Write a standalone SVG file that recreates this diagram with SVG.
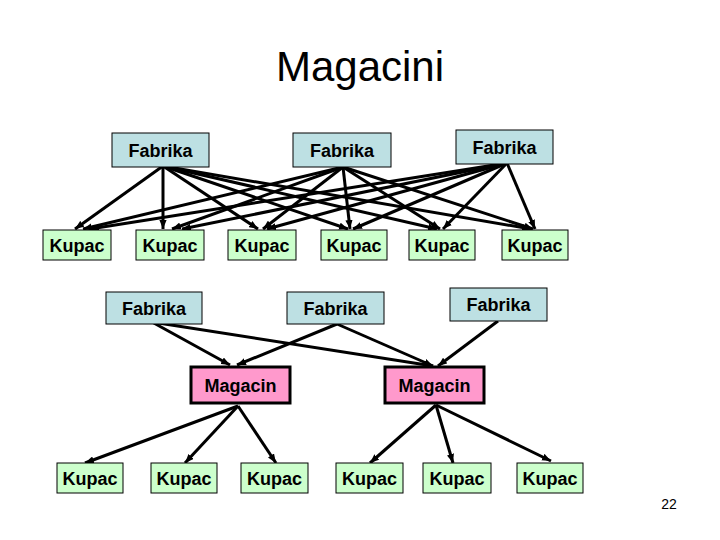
<svg xmlns="http://www.w3.org/2000/svg" width="720" height="540" viewBox="0 0 720 540">
<style>
.lbl{font-family:"Liberation Sans",Arial,sans-serif;font-weight:bold;font-size:18px;text-anchor:middle;fill:#000}
.fab{fill:#BDE0E3;stroke:#000;stroke-width:1}
.kup{fill:#CCFFCC;stroke:#000;stroke-width:1}
.mag{fill:#FF99CC;stroke:#000;stroke-width:3}
.con line{stroke:#000;stroke-width:3;marker-end:url(#ah)}
</style>
<defs>
<marker id="ah" markerUnits="userSpaceOnUse" viewBox="0 0 10 8" refX="10" refY="4" markerWidth="9" markerHeight="7.5" orient="auto">
<path d="M0,0 L10,4 L0,8 z" fill="#000"/>
</marker>
</defs>
<rect width="720" height="540" fill="#fff"/>
<text x="360" y="81" font-family="'Liberation Sans',Arial,sans-serif" font-size="42" text-anchor="middle">Magacini</text>
<text x="669" y="509" font-family="'Liberation Sans',Arial,sans-serif" font-size="14" text-anchor="middle">22</text>

<g id="connectors" class="con">
<line x1="163" y1="166" x2="75" y2="229"/>
<line x1="163" y1="166" x2="163" y2="229"/>
<line x1="163" y1="166" x2="258" y2="229"/>
<line x1="163" y1="166" x2="348" y2="229"/>
<line x1="163" y1="166" x2="437" y2="229"/>
<line x1="163" y1="166" x2="531" y2="229"/>
<line x1="343" y1="167" x2="83" y2="229"/>
<line x1="343" y1="167" x2="172" y2="229"/>
<line x1="343" y1="167" x2="263" y2="229"/>
<line x1="343" y1="167" x2="350" y2="229"/>
<line x1="343" y1="167" x2="440" y2="229"/>
<line x1="343" y1="167" x2="533" y2="229"/>
<line x1="507" y1="163" x2="90" y2="229"/>
<line x1="507" y1="163" x2="182" y2="229"/>
<line x1="507" y1="163" x2="267" y2="229"/>
<line x1="507" y1="163" x2="353" y2="229"/>
<line x1="507" y1="163" x2="443" y2="229"/>
<line x1="507" y1="163" x2="535" y2="229"/>
<line x1="152" y1="322" x2="230" y2="365"/>
<line x1="152" y1="322" x2="433" y2="366"/>
<line x1="337" y1="324" x2="237" y2="365"/>
<line x1="337" y1="324" x2="433" y2="366"/>
<line x1="498" y1="321" x2="438" y2="366"/>
<line x1="238" y1="406" x2="85" y2="463"/>
<line x1="238" y1="406" x2="185" y2="463"/>
<line x1="238" y1="406" x2="276" y2="463"/>
<line x1="436" y1="405" x2="370" y2="463"/>
<line x1="436" y1="405" x2="453" y2="463"/>
<line x1="436" y1="405" x2="551" y2="461"/>
</g>

<g id="fabrika1"><rect class="fab" x="112" y="133" width="97" height="34"/><text class="lbl" x="160.5" y="156.5">Fabrika</text></g>
<g id="fabrika2"><rect class="fab" x="293" y="133" width="98" height="34"/><text class="lbl" x="342" y="156.5">Fabrika</text></g>
<g id="fabrika3"><rect class="fab" x="456" y="130" width="97" height="34"/><text class="lbl" x="504.5" y="153.5">Fabrika</text></g>

<g id="kupac1"><rect class="kup" x="43" y="230" width="68" height="30"/><text class="lbl" x="77" y="251.5">Kupac</text></g>
<g id="kupac2"><rect class="kup" x="136" y="230" width="68" height="30"/><text class="lbl" x="170" y="251.5">Kupac</text></g>
<g id="kupac3"><rect class="kup" x="228" y="230" width="68" height="30"/><text class="lbl" x="262" y="251.5">Kupac</text></g>
<g id="kupac4"><rect class="kup" x="321" y="230" width="66" height="30"/><text class="lbl" x="354" y="251.5">Kupac</text></g>
<g id="kupac5"><rect class="kup" x="409" y="230" width="66" height="30"/><text class="lbl" x="442" y="251.5">Kupac</text></g>
<g id="kupac6"><rect class="kup" x="502" y="230" width="66" height="30"/><text class="lbl" x="535" y="251.5">Kupac</text></g>

<g id="fabrika4"><rect class="fab" x="106" y="292" width="96" height="32"/><text class="lbl" x="154" y="314.5">Fabrika</text></g>
<g id="fabrika5"><rect class="fab" x="287" y="292" width="97" height="32"/><text class="lbl" x="335.5" y="314.5">Fabrika</text></g>
<g id="fabrika6"><rect class="fab" x="450" y="288" width="97" height="33"/><text class="lbl" x="498.5" y="311">Fabrika</text></g>

<g id="magacin1"><rect class="mag" x="191" y="367" width="99" height="36"/><text class="lbl" x="240.5" y="391.5">Magacin</text></g>
<g id="magacin2"><rect class="mag" x="385" y="367" width="99" height="36"/><text class="lbl" x="434.5" y="391.5">Magacin</text></g>

<g id="kupac7"><rect class="kup" x="57" y="463" width="66" height="30"/><text class="lbl" x="90" y="484.5">Kupac</text></g>
<g id="kupac8"><rect class="kup" x="151" y="463" width="66" height="30"/><text class="lbl" x="184" y="484.5">Kupac</text></g>
<g id="kupac9"><rect class="kup" x="241" y="463" width="67" height="30"/><text class="lbl" x="274.5" y="484.5">Kupac</text></g>
<g id="kupac10"><rect class="kup" x="336" y="463" width="67" height="30"/><text class="lbl" x="369.5" y="484.5">Kupac</text></g>
<g id="kupac11"><rect class="kup" x="423" y="463" width="68" height="30"/><text class="lbl" x="457" y="484.5">Kupac</text></g>
<g id="kupac12"><rect class="kup" x="517" y="463" width="66" height="30"/><text class="lbl" x="550" y="484.5">Kupac</text></g>
</svg>
